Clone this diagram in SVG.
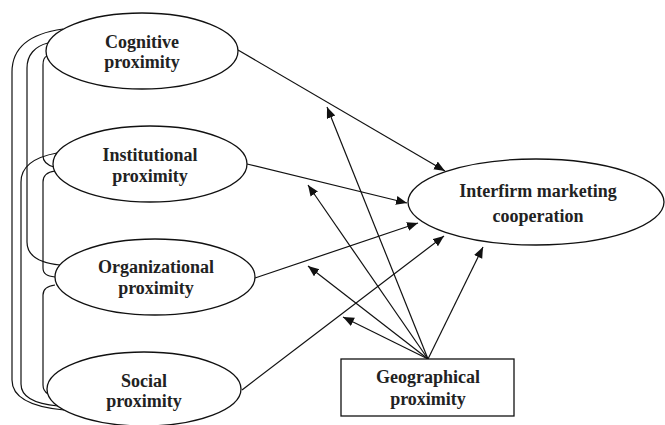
<svg xmlns="http://www.w3.org/2000/svg" width="665" height="425" viewBox="0 0 665 425">
<style>
.n{fill:#fff;stroke:#111;stroke-width:1.3}
.t{font-family:"Liberation Serif","Times New Roman",serif;font-weight:bold;font-size:18px;fill:#222;text-anchor:middle}
.c{fill:none;stroke:#111;stroke-width:1.2}
</style>
<defs>
<marker id="ah" markerUnits="userSpaceOnUse" markerWidth="12" markerHeight="10" refX="11" refY="4.5" orient="auto">
<path d="M0,0 L11,4.5 L0,9 z" fill="#111"/>
</marker>
</defs>
<rect width="665" height="425" fill="#fff"/>
<g id="connectors">
<path class="c" d="M63,29 C34,33 12,45 12,72 L12,380 C12,398 32,407 64,410"/>
<path class="c" d="M48,43 C35,46 27,55 27,68 L27,242 C27,256 40,263 60,265"/>
<path class="c" d="M47,56 C44,57 43,60 43,65 L43,156 C43,162 47,165 54,167"/>
<path class="c" d="M57,153 C35,157 21,166 21,182 L21,384 C21,397 36,404 58,406"/>
<path class="c" d="M55,171 C47,172 43,175 43,182 L43,268 C43,274 47,276 55,277"/>
<path class="c" d="M55,285 C47,286 43,289 43,295 L43,385 C43,390 45,392 48,394"/>
<line class="c" x1="238" y1="50" x2="445" y2="171" marker-end="url(#ah)"/>
<line class="c" x1="247" y1="164" x2="407" y2="203" marker-end="url(#ah)"/>
<line class="c" x1="255" y1="278" x2="418" y2="223" marker-end="url(#ah)"/>
<line class="c" x1="242" y1="390" x2="444" y2="236" marker-end="url(#ah)"/>
<line class="c" x1="428" y1="359" x2="327" y2="107" marker-end="url(#ah)"/>
<line class="c" x1="428" y1="359" x2="308" y2="185" marker-end="url(#ah)"/>
<line class="c" x1="428" y1="359" x2="308" y2="266" marker-end="url(#ah)"/>
<line class="c" x1="428" y1="359" x2="343" y2="317" marker-end="url(#ah)"/>
<line class="c" x1="428" y1="359" x2="483" y2="247" marker-end="url(#ah)"/>
</g>
<g id="cognitive">
<ellipse class="n" cx="142" cy="51" rx="96" ry="38"/>
<text class="t" x="142" y="48">Cognitive</text>
<text class="t" x="142" y="68">proximity</text>
</g>
<g id="institutional">
<ellipse class="n" cx="150" cy="164" rx="97" ry="38"/>
<text class="t" x="150" y="161">Institutional</text>
<text class="t" x="150" y="182">proximity</text>
</g>
<g id="organizational">
<ellipse class="n" cx="155" cy="277" rx="100" ry="38"/>
<text class="t" x="156" y="273">Organizational</text>
<text class="t" x="156" y="294">proximity</text>
</g>
<g id="social">
<ellipse class="n" cx="144" cy="389" rx="97" ry="37"/>
<text class="t" x="144" y="387">Social</text>
<text class="t" x="144" y="407">proximity</text>
</g>
<g id="interfirm">
<ellipse class="n" cx="536" cy="202" rx="128" ry="43"/>
<text class="t" x="538" y="197">Interfirm marketing</text>
<text class="t" x="538" y="222">cooperation</text>
</g>
<g id="geographical">
<rect class="n" x="341" y="359" width="173" height="57"/>
<text class="t" x="428" y="383">Geographical</text>
<text class="t" x="428" y="405">proximity</text>
</g>
</svg>
